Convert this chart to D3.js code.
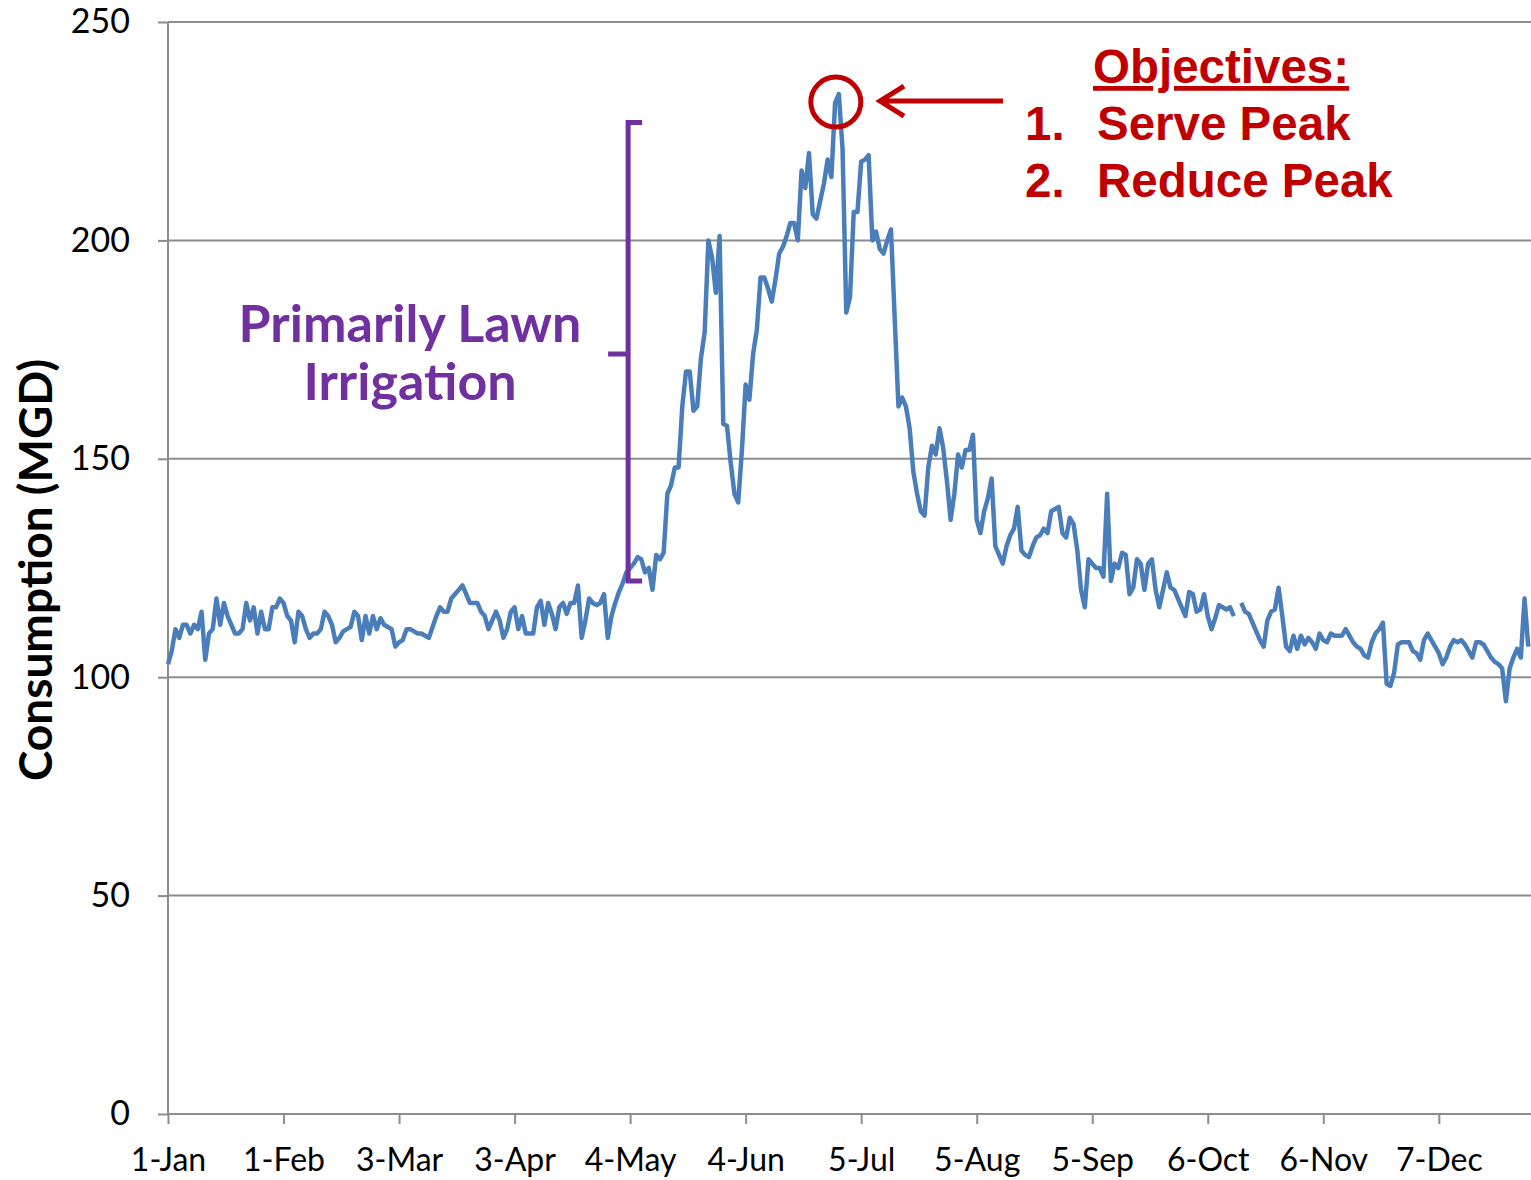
<!DOCTYPE html>
<html>
<head>
<meta charset="utf-8">
<script src="https://cdn.jsdelivr.net/npm/d3@7"></script>
<style>
  body { margin: 0; background: #fff; }
  svg { display: block; }
  .tick text { font-family: Lato, "Open Sans", sans-serif; fill: #000; }
</style>
</head>
<body>
<svg width="1531" height="1180"></svg>
<script>
// daily consumption (MGD), one array per month, 2012 (leap year)
const jan = [103,106,111,109,112,112,110,112,111,115,104,110,111,118,112,117,114,112,110,110,111,117,113,116,110,115,111,111,116,116,118];
const feb = [117,114,113,108,115,114,111,109,110,110,111,115,114,112,108,109,110.5,111,111.5,115,114,108.5,114,110,114,111,113.5,112,111.5];
const mar = [111,107,108,108.5,111,111,110.5,110,110,109.5,109,111.5,114,116,115,115,118,119,120,121,119,117,117,117,115,114,111,113,115,113,109];
const apr = [111,115,116,111,114,110,110,110,116,117.5,112,117,114.5,111,116,117,114.5,117,117,121,109,113,118,117,116.5,117,119,109,114,117];
const may = [119.5,121.5,124,125,126,127.5,127,124,125,120,128,127,128.5,142,144,148,148,162,170,170,161,162,173,179,200,196,188,201,158,157.5,149];
const jun = [142,140,152,167,163.5,174,179.5,191.5,191.5,189,186,191,197,198.5,201,204,204,200,216,212,220,206,205,209,213,218.5,214.5,231.5,233.5,221];
const jul = [183.5,187,206.5,206.5,218,218.5,219.5,200,202,198,197,200,202.5,182,162,164,162,157,147,142,138,137,148,153,151,157,152.5,145,136,142,151];
const aug = [148,152,152,155.5,136,133,138,141,145.5,130,128,126,130,132.5,134,139,129,128,127.5,130,132,132.5,134,133,138,138.5,139,133,132,136.5,135];
const sep = [129,120,116,127,126,125,125,123,142,122,126,125,128.5,128,119,120.5,127,126,120,126,127,120,116,120,124,120.5,120,118,116,114];
const oct = [119.5,119,115,115.5,119,114,111,113.5,116.5,116,115.5,116,114,null,117,115,114.5,112.5,110.5,108.5,107,113,115,115.5,120.5,114,107,106,109.5,106.5,109.5];
const nov = [107.5,109,108,106.5,110,108.5,108,110,109.5,109.5,109.5,111,109.5,108,107,106.5,105,104.5,108,110,111,112.5,98.5,98,101,107.5,108,108,108,106];
const dec = [105.5,104,108.5,110,108.5,107,105.5,103,104.5,107,108.5,108,108.5,107.5,106,104.5,108,108,107.5,106,104.5,103.5,103,102,94.5,102,104.5,106.5,104.5,118,107];

const tickDates = ["2012-01-01","2012-02-01","2012-03-03","2012-04-03","2012-05-04","2012-06-04",
                   "2012-07-05","2012-08-05","2012-09-05","2012-10-06","2012-11-06","2012-12-07"];
const yTicks = [0, 50, 100, 150, 200, 250];

const svg = d3.select("svg");
const width = +svg.attr("width");
const height = +svg.attr("height");

const margin = { top: 22, right: 0, bottom: 66, left: 168 };
const parse = d3.timeParse("%Y-%m-%d");
const start = parse("2012-01-01");

const values = [].concat(jan, feb, mar, apr, may, jun, jul, aug, sep, oct, nov, dec);
const data = values.map((v, i) => ({ date: d3.timeDay.offset(start, i), value: v }));

const x = d3.scaleTime()
  .domain([start, parse("2013-01-01")])
  .range([margin.left, margin.left + 1364]);
const y = d3.scaleLinear()
  .domain([0, 250])
  .range([height - margin.bottom, margin.top]);

// gridlines
svg.append("g")
  .selectAll("line")
  .data(yTicks)
  .join("line")
  .attr("x1", margin.left)
  .attr("x2", width)
  .attr("y1", d => y(d))
  .attr("y2", d => y(d))
  .attr("stroke", "#8c8c8c")
  .attr("stroke-width", 2);

// y axis
const yAxisG = svg.append("g")
  .attr("transform", `translate(${margin.left},0)`)
  .call(d3.axisLeft(y).tickValues(yTicks).tickSize(10).tickPadding(28));
yAxisG.selectAll("line, path").attr("stroke", "#8c8c8c").attr("stroke-width", 2);
yAxisG.select(".domain").attr("d", `M0,${y(250)}V${y(0)}`);
yAxisG.selectAll("text").attr("font-size", 34);

// x axis
const xAxisG = svg.append("g")
  .attr("transform", `translate(0,${y(0)})`)
  .call(d3.axisBottom(x)
    .tickValues(tickDates.map(parse))
    .tickFormat(d3.timeFormat("%-d-%b"))
    .tickSize(10)
    .tickPadding(24));
xAxisG.selectAll("line, path").attr("stroke", "#8c8c8c").attr("stroke-width", 2);
xAxisG.select(".domain").attr("d", `M${margin.left},0H${width}`);
xAxisG.selectAll("text").attr("font-size", 32);

// axis title
svg.append("text")
  .attr("transform", `translate(52,${(y(0) + y(250)) / 2 + 2}) rotate(-90)`)
  .attr("text-anchor", "middle")
  .attr("font-family", "Lato, sans-serif")
  .attr("font-weight", "bold")
  .attr("font-size", 46)
  .text("Consumption (MGD)");

// line
const line = d3.line()
  .defined(d => d.value != null)
  .x(d => x(d.date))
  .y(d => y(d.value));

svg.append("path")
  .datum(data)
  .attr("fill", "none")
  .attr("stroke", "#4a7ebb")
  .attr("stroke-width", 4.5)
  .attr("stroke-linejoin", "round")
  .attr("d", line);

// purple bracket
const purple = "#7030a0";
const bx = x(parse("2012-05-04")) - 2;
const bTop = y(227), bBot = y(122), bMid = y(174);
svg.append("path")
  .attr("d", `M${bx + 14},${bTop}H${bx}V${bBot}H${bx + 14}M${bx},${bMid}H${bx - 20}`)
  .attr("fill", "none")
  .attr("stroke", purple)
  .attr("stroke-width", 5);

const lawn = svg.append("text")
  .attr("text-anchor", "middle")
  .attr("font-family", "Lato, sans-serif")
  .attr("font-weight", "bold")
  .attr("font-size", 52)
  .attr("fill", purple);
lawn.append("tspan").attr("x", 410).attr("y", 342).text("Primarily Lawn");
lawn.append("tspan").attr("x", 410).attr("y", 400).text("Irrigation");

// peak circle and arrow
const red = "#c00000";
const peak = data[d3.maxIndex(data, d => d.value)];
const cx = x(peak.date) - 3, cy = y(peak.value) + 8;
svg.append("circle")
  .attr("cx", cx)
  .attr("cy", cy)
  .attr("r", 25)
  .attr("fill", "none")
  .attr("stroke", red)
  .attr("stroke-width", 5);

svg.append("path")
  .attr("d", `M1003,${cy - 1}H880M904,${cy - 16}L880,${cy - 1}L904,${cy + 14}`)
  .attr("fill", "none")
  .attr("stroke", red)
  .attr("stroke-width", 5);

const obj = svg.append("g")
  .attr("font-family", "'Liberation Sans', Arial, sans-serif")
  .attr("font-weight", "bold")
  .attr("font-size", 47.5)
  .attr("fill", red);
obj.append("text").attr("x", 1093).attr("y", 83)
  .style("text-decoration", "underline")
  .text("Objectives:");
obj.append("text").attr("x", 1025).attr("y", 140).text("1.");
obj.append("text").attr("x", 1097).attr("y", 140).text("Serve Peak");
obj.append("text").attr("x", 1025).attr("y", 197).text("2.");
obj.append("text").attr("x", 1097).attr("y", 197).text("Reduce Peak");
</script>
</body>
</html>
